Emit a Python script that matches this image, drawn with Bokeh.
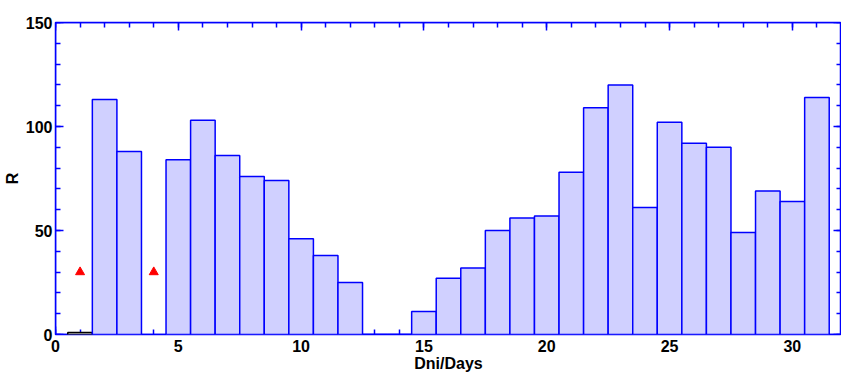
from bokeh.plotting import figure
from bokeh.models import (Range1d, SingleIntervalTicker, LinearAxis, ColumnDataSource,
                          CustomJSTickFormatter)
from bokeh.embed import file_html
from bokeh.resources import INLINE

# ---- data ----
days = list(range(1, 32))
r_values = [1, 113, 88, None, 84, 103, 86, 76, 74, 46, 38, 25, 0, 0,
            11, 27, 32, 50, 56, 57, 78, 109, 120, 61, 102, 92, 90, 49, 69, 64, 114]
flagged_days = [1]          # bars drawn with white fill / black outline
marker_days = [1, 4]
marker_values = [30, 30]

# ---- build sources ----
xs, tops, fills, lines = [], [], [], []
for d, v in zip(days, r_values):
    if v is None:
        continue
    xs.append(d)
    tops.append(v)
    if d in flagged_days:
        fills.append("white")
        lines.append("black")
    else:
        fills.append("#D0D0FF")
        lines.append("#0000FF")
src = ColumnDataSource(dict(x=xs, top=tops, fill=fills, line=lines))

FONT = "Liberation Sans"
BLUE = "#0000FF"

p = figure(frame_width=786, frame_height=312,
           x_range=Range1d(0, 32), y_range=Range1d(0, 150),
           output_backend="svg", toolbar_location=None,
           x_axis_location=None, y_axis_location=None,
           min_border_left=0, min_border_top=22, min_border_right=0, min_border_bottom=0,
           background_fill_color="white", border_fill_color="white")
p.grid.visible = False
p.outline_line_color = BLUE
p.outline_line_width = 1.5

p.vbar(x="x", top="top", bottom=0, width=1.0, source=src,
       fill_color="fill", line_color="line", line_width=1.5)
p.scatter(marker_days, marker_values, marker="triangle", size=9,
          fill_color="red", line_color="red")

def x_ticker():
    return SingleIntervalTicker(interval=5, num_minor_ticks=5)

def y_ticker():
    return SingleIntervalTicker(interval=50, num_minor_ticks=5)

# tick-only axes (drawn beneath the bars, so bars hide the inward ticks)
blank = CustomJSTickFormatter(code="return ''")
tick_axes = {
    "below": LinearAxis(ticker=x_ticker(), formatter=blank),
    "left": LinearAxis(ticker=y_ticker(), formatter=blank),
    "above": LinearAxis(ticker=x_ticker(), formatter=blank),
    "right": LinearAxis(ticker=y_ticker(), formatter=blank),
}
for side, ax in tick_axes.items():
    ax.level = "underlay"
    ax.axis_line_color = BLUE
    ax.axis_line_width = 1.5
    ax.major_tick_line_color = BLUE
    ax.minor_tick_line_color = BLUE
    ax.major_tick_line_width = 1.5
    ax.minor_tick_line_width = 1.5
    ax.major_tick_in = 8
    ax.major_tick_out = 0
    ax.minor_tick_in = 5
    ax.minor_tick_out = 0
    ax.major_label_standoff = 0
    p.add_layout(ax, side)

# labelled axes (text only)
bottom_ax = LinearAxis(axis_label="Dni/Days", ticker=x_ticker())
left_ax = LinearAxis(axis_label="R", ticker=y_ticker())
for ax in [bottom_ax, left_ax]:
    ax.axis_line_color = None
    ax.major_tick_line_color = None
    ax.minor_tick_line_color = None
    ax.major_tick_in = 0
    ax.major_tick_out = 0
    ax.minor_tick_in = 0
    ax.minor_tick_out = 0
    ax.major_label_text_font = FONT
    ax.major_label_text_font_style = "bold"
    ax.major_label_text_font_size = "16px"
    ax.major_label_text_color = "black"
    ax.axis_label_text_font = FONT
    ax.axis_label_text_font_style = "bold"
    ax.axis_label_text_font_size = "16px"
    ax.axis_label_text_color = "black"

bottom_ax.major_label_standoff = 5
left_ax.major_label_standoff = 3
bottom_ax.axis_label_standoff = 0
left_ax.axis_label_standoff = 2

p.add_layout(bottom_ax, "below")
p.add_layout(left_ax, "left")

open("out.html", "w").write(file_html(p, INLINE))
